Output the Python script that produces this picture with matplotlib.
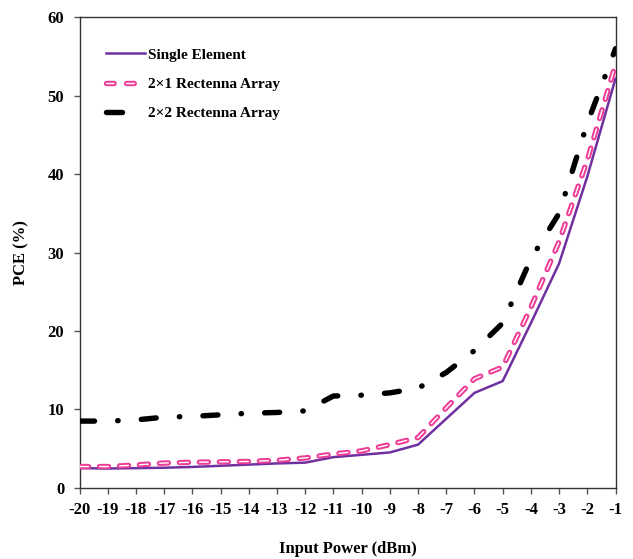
import matplotlib
matplotlib.use("Agg")
import matplotlib.pyplot as plt
from matplotlib.lines import Line2D
from matplotlib.legend_handler import HandlerTuple

plt.rcParams['font.family'] = ['Liberation Serif', 'DejaVu Serif']
plt.rcParams['font.weight'] = 'bold'
plt.rcParams['lines.scale_dashes'] = False

input_power = [-20, -19, -18, -17, -16, -15, -14, -13, -12, -11,
               -10, -9, -8, -7, -6, -5, -4, -3, -2, -1]
single_element = [2.5, 2.45, 2.5, 2.55, 2.65, 2.8, 2.95, 3.1, 3.2, 3.9,
                  4.2, 4.5, 5.5, 8.8, 12.1, 13.6, 21.0, 28.6, 39.7, 52.2]
array_2x1 = [2.7, 2.7, 2.9, 3.15, 3.25, 3.3, 3.35, 3.5, 3.8, 4.3,
             4.7, 5.5, 6.4, 10.2, 13.9, 15.4, 23.0, 31.4, 41.8, 54.0]
array_2x2 = [8.5, 8.5, 8.65, 9.0, 9.1, 9.3, 9.5, 9.6, 9.8, 11.7,
             11.8, 12.1, 12.7, 14.7, 17.5, 21.0, 29.2, 35.0, 46.5, 56.0]

labels = ['Single Element', '2\u00d71 Rectenna Array', '2\u00d72 Rectenna Array']

fig = plt.figure(figsize=(6.33, 5.59), dpi=100)
ax = fig.add_axes([0.1256, 0.1275, 0.9724 - 0.1256, 0.969 - 0.1275])

purple = '#7030A0'
pink = '#EE3D96'

pink_dash = (0, (6.5, 7.9))
black_dash = (0, (10.8, 16.7, 0.3, 16.7))

ax.plot(input_power, single_element, color=purple, lw=1.8,
        solid_capstyle='round', solid_joinstyle='round', zorder=3)
ax.plot(input_power, array_2x1, color=pink, lw=3.9, linestyle=pink_dash,
        dash_capstyle='round', zorder=4)
ax.plot(input_power, array_2x1, color='white', lw=1.0, linestyle=pink_dash,
        dash_capstyle='round', zorder=5)
ax.plot(input_power, array_2x2, color='black', lw=3.9, linestyle=black_dash,
        dash_capstyle='round', zorder=6)

ax.set_xlim(-20, -1)
ax.set_ylim(0, 60)
ax.set_xticks(input_power)
ax.set_xticklabels([str(v) for v in input_power])
ax.set_yticks(range(0, 61, 10))

for s in ax.spines.values():
    s.set_color('#333333')
    s.set_linewidth(1.0)

ax.tick_params(axis='x', direction='out', length=4, width=1, color='#555555',
               labelsize=12, pad=6, top=False)
ax.tick_params(axis='y', direction='out', length=4, width=1, color='#555555',
               labelsize=12, pad=7, right=False)
for t in ax.get_xticklabels() + ax.get_yticklabels():
    t.set_fontweight('bold')

ax.set_xlabel('Input Power (dBm)', fontsize=12, fontweight='bold', labelpad=17)
ax.set_ylabel('PCE (%)', fontsize=12, fontweight='bold', labelpad=13)

# legend proxies
h1 = Line2D([], [], color=purple, lw=1.8)
leg_pink_dash = (0, (5.5, 9.0))
h2a = Line2D([], [], color=pink, lw=3.9, linestyle=leg_pink_dash, dash_capstyle='round')
h2b = Line2D([], [], color='white', lw=1.0, linestyle=leg_pink_dash, dash_capstyle='round')
h3 = Line2D([], [], color='black', lw=3.9, linestyle=(0, (11.5, 40)),
            dash_capstyle='round')
leg = ax.legend([h1, (h2a, h2b), h3], labels,
                handler_map={tuple: HandlerTuple(ndivide=1, pad=0)},
                loc='upper left', bbox_to_anchor=(0.05, 0.935), frameon=False,
                borderpad=0, borderaxespad=0, handlelength=2.5, handletextpad=0.25,
                labelspacing=1.02,
                prop={'family': 'Liberation Serif', 'weight': 'bold', 'size': 11})

fig.savefig('out.png', dpi=100)
